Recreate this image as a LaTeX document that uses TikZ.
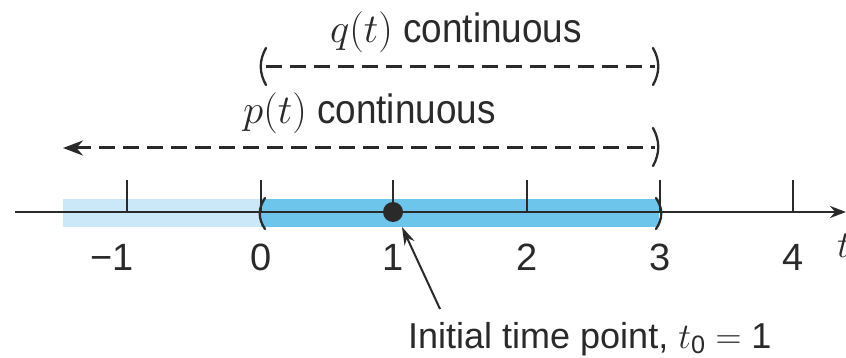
\RequirePackage{fix-cm}
\documentclass[tikz,border=0pt]{standalone}
\usepackage{amsmath}
\usepackage{fontspec}
\setmainfont{Liberation Sans}
\newfontfamily\narrowf[FakeStretch=0.9]{Liberation Sans}
\usetikzlibrary{arrows.meta}
\definecolor{axisc}{HTML}{2A2A2A}
\definecolor{lightb}{HTML}{CBE8F8}
\definecolor{darkb}{HTML}{6EC5EC}
\tikzset{
  axisline/.style={draw=axisc, line width=2.8pt},
  tickline/.style={draw=axisc, line width=2pt},
  dashline/.style={draw=axisc, line width=3pt, dash pattern=on 16pt off 8pt},
  paren/.style={draw=axisc, line width=2.3pt, line cap=round},
  numlab/.style={font=\fontsize{38}{40}\selectfont, text=axisc, inner sep=0pt},
  toplab/.style={font=\fontsize{41}{44}\selectfont\narrowf, text=axisc, inner sep=0pt},
  txtlab/.style={font=\fontsize{36}{40}\selectfont, text=axisc, inner sep=0pt},
}
\newcommand{\lparen}[3]{\draw[paren] (#1+5,#2) .. controls (#1-2,#2+0.33*#3-0.33*#2) and (#1-2,#3-0.33*#3+0.33*#2) .. (#1+5,#3);}
\newcommand{\rparen}[3]{\draw[paren] (#1-5,#2) .. controls (#1+2,#2+0.33*#3-0.33*#2) and (#1+2,#3-0.33*#3+0.33*#2) .. (#1-5,#3);}
\begin{document}
\begin{tikzpicture}[x=1pt,y=-1pt]
\useasboundingbox[fill=white] (0,0) rectangle (846,358);
% shaded intervals
\fill[lightb] (63,199) rectangle (261,227);
\fill[darkb] (261,199) rectangle (659,227);
% axis
\coordinate (axL) at (15,212);
\coordinate (axR) at (846,212);
\draw[axisline, -{Stealth[length=16pt,width=12pt]}] (axL) -- (axR);
\node[numlab, anchor=base west] (tlab) at (837,258) {$t$};
% ticks and labels
\foreach \x/\n in {127/m1,261/z,393/o,527/tw,660/th,793/fo}{
  \coordinate (tk\n) at (\x,180);
  \coordinate (tb\n) at (\x,212);
  \draw[tickline] (tk\n) -- (tb\n);
}
\node[numlab, anchor=base east] (lm1) at (134,270) {−1};
\node[numlab, anchor=base] (l0) at (261,270) {0};
\node[numlab, anchor=base] (l1) at (393,270) {1};
\node[numlab, anchor=base] (l2) at (527,270) {2};
\node[numlab, anchor=base] (l3) at (660,270) {3};
\node[numlab, anchor=base] (l4) at (793,270) {4};
% interval parentheses on axis
\lparen{260}{198}{229}
\rparen{661}{198}{229}
% initial point
\node[circle, fill=axisc, minimum size=20pt, inner sep=0pt] (dot) at (393,212) {};
% q(t) interval
\node[toplab, anchor=base west] (qlab) at (330,43) {$q(t)$ continuous};
\lparen{261}{48}{85}
\rparen{658}{48}{85}
\coordinate (qL) at (266,67);
\coordinate (qR) at (655,67);
\draw[dashline] (qL) -- (qR);
% p(t) interval
\node[toplab, anchor=base west] (plab) at (243,124) {$p(t)$ continuous};
\rparen{658}{128}{166}
\coordinate (pL) at (63,148);
\coordinate (pR) at (655,148);
\draw[dashline, {Stealth[length=20pt,width=15pt]}-] (pL) -- (pR);
% annotation
\node[txtlab, anchor=base west] (init) at (408,348) {Initial time point, $t_{\text{0}} = \text{1}$};
\coordinate (arrTail) at (440,309);
\coordinate (arrTip) at (402,227);
\draw[draw=axisc, line width=2pt, -{Stealth[length=18pt,width=11pt]}] (arrTail) -- (arrTip);
\end{tikzpicture}
\end{document}
